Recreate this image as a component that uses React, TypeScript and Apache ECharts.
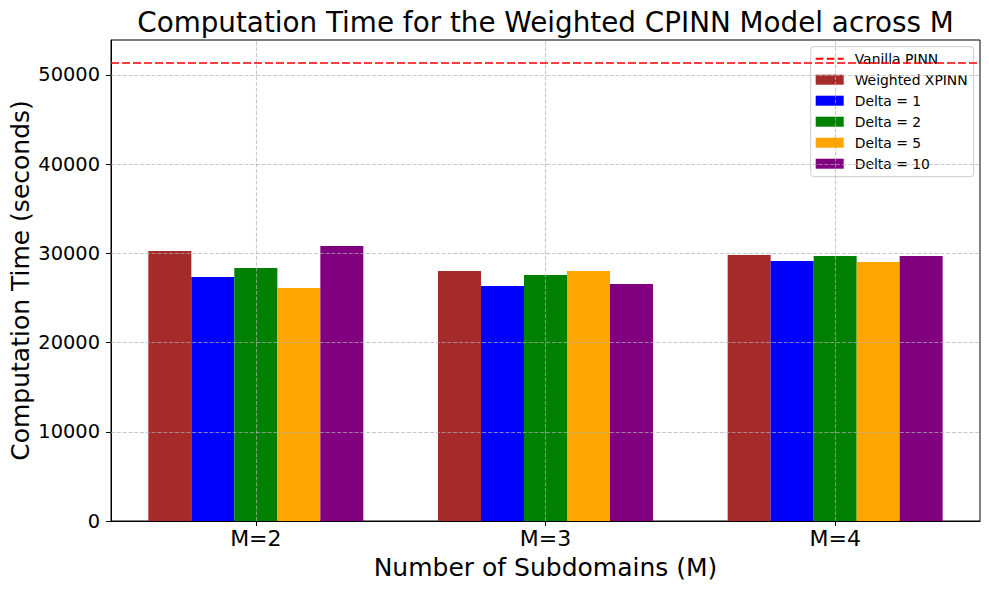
import React, { useEffect, useRef } from 'react';
import * as echarts from 'echarts';

// ---- data ----
const categories = ['M=2', 'M=3', 'M=4'];
const seriesNames = ['Weighted XPINN', 'Delta = 1', 'Delta = 2', 'Delta = 5', 'Delta = 10'];
const weightedXPINN = [30250, 28020, 29810];
const delta1 = [27340, 26340, 29140];
const delta2 = [28350, 27570, 29700];
const delta5 = [26110, 28020, 29030];
const delta10 = [30820, 26560, 29700];
const vanillaPINN = 51330;
const yTicks = [0, 10000, 20000, 30000, 40000, 50000];
const yMax = 53900;

const seriesValues = [weightedXPINN, delta1, delta2, delta5, delta10];
const seriesColors = ['#A52A2A', '#0000FF', '#008000', '#FFA500', '#800080'];

const FONT = '"DejaVu Sans", sans-serif';
const DASH_ICON = 'path://M0,0h7.7v2.1h-7.7z M11,0h7.7v2.1h-7.7z M22,0h6v2.1h-6z';

export default function App() {
  const ref = useRef<HTMLDivElement>(null);

  useEffect(() => {
    if (!ref.current) return;
    const chart = echarts.init(ref.current, undefined, { renderer: 'svg' });

    const gridStyle = { color: 'rgba(176,176,176,0.7)', width: 1.1, type: [4, 1.8] as any };

    const markData: any[] = [];
    yTicks.filter((v) => v > 0).forEach((v) => markData.push({ yAxis: v, lineStyle: gridStyle }));
    categories.forEach((c) => markData.push({ xAxis: c, lineStyle: gridStyle }));
    markData.push({ yAxis: vanillaPINN, lineStyle: { color: '#ff0000', width: 1.6, type: [8, 3] } });

    const bars = seriesNames.map((name, i) => ({
      name,
      type: 'bar',
      data: seriesValues[i],
      barWidth: 43,
      barGap: '0%',
      itemStyle: { color: seriesColors[i] },
    }));

    const option: any = {
      animation: false,
      textStyle: { fontFamily: FONT },
      grid: {
        left: 111,
        right: 9,
        top: 40,
        bottom: 69,
        show: true,
        borderColor: '#000',
        borderWidth: 1,
        backgroundColor: 'transparent',
      },
      xAxis: {
        type: 'category',
        data: categories,
        boundaryGap: true,
        axisLine: { show: true, lineStyle: { color: '#000', width: 1 } },
        axisTick: { show: true, alignWithLabel: true, length: 5, lineStyle: { color: '#000', width: 1 } },
        axisLabel: { fontSize: 22, color: '#000', fontFamily: FONT, margin: 6 },
        splitLine: { show: false },
      },
      yAxis: {
        type: 'value',
        min: 0,
        max: yMax,
        interval: 10000,
        axisLine: { show: true, lineStyle: { color: '#000', width: 1 } },
        axisTick: { show: true, length: 5, lineStyle: { color: '#000', width: 1 }, customValues: yTicks },
        axisLabel: {
          fontSize: 19.4,
          color: '#000',
          fontFamily: FONT,
          margin: 11,
          customValues: yTicks,
          formatter: (v: number) => (v % 10000 === 0 ? String(v) : ''),
        },
        splitLine: { show: false },
      },
      legend: {
        orient: 'vertical',
        left: 810.7,
        top: 46.7,
        padding: [5, 6, 6, 5],
        itemWidth: 28,
        itemHeight: 10,
        itemGap: 7,
        symbolKeepAspect: true,
        borderColor: '#cccccc',
        borderWidth: 1,
        borderRadius: 3,
        backgroundColor: 'rgba(255,255,255,0.8)',
        selectedMode: false,
        textStyle: { fontSize: 13.9, color: '#000', fontFamily: FONT, lineHeight: 14, padding: [0, 0, 0, 6] },
        data: [
          { name: 'Vanilla PINN', icon: DASH_ICON, itemStyle: { color: '#ff0000' } },
          ...seriesNames.map((n) => ({ name: n, icon: 'rect' })),
        ],
      },
      series: [
        ...bars,
        {
          name: 'Vanilla PINN',
          type: 'line',
          data: [],
          symbol: 'none',
          itemStyle: { color: '#ff0000' },
          lineStyle: { color: '#ff0000', width: 1.6, type: [8, 3] },
          markLine: {
            silent: true,
            symbol: ['none', 'none'],
            label: { show: false },
            data: markData,
          },
        },
      ],
      graphic: [
        {
          type: 'text',
          x: 545.5,
          y: 22,
          style: {
            text: 'Computation Time for the Weighted CPINN Model across M',
            fontSize: 27.8,
            fontFamily: FONT,
            fill: '#000',
            align: 'center',
            verticalAlign: 'middle',
            textAlign: 'center',
            textVerticalAlign: 'middle',
          },
        },
        {
          type: 'text',
          x: 545.5,
          y: 567,
          style: {
            text: 'Number of Subdomains (M)',
            fontSize: 25,
            fontFamily: FONT,
            fill: '#000',
            align: 'center',
            verticalAlign: 'middle',
            textAlign: 'center',
            textVerticalAlign: 'middle',
          },
        },
        {
          type: 'text',
          x: 20,
          y: 280.5,
          rotation: Math.PI / 2,
          style: {
            text: 'Computation Time (seconds)',
            fontSize: 25,
            fontFamily: FONT,
            fill: '#000',
            align: 'center',
            verticalAlign: 'middle',
            textAlign: 'center',
            textVerticalAlign: 'middle',
          },
        },
      ],
    };

    chart.setOption(option);
    return () => chart.dispose();
  }, []);

  return (
    <div
      ref={ref}
      style={{ position: 'fixed', left: 0, top: 0, width: 989, height: 590, background: '#fff' }}
    />
  );
}
